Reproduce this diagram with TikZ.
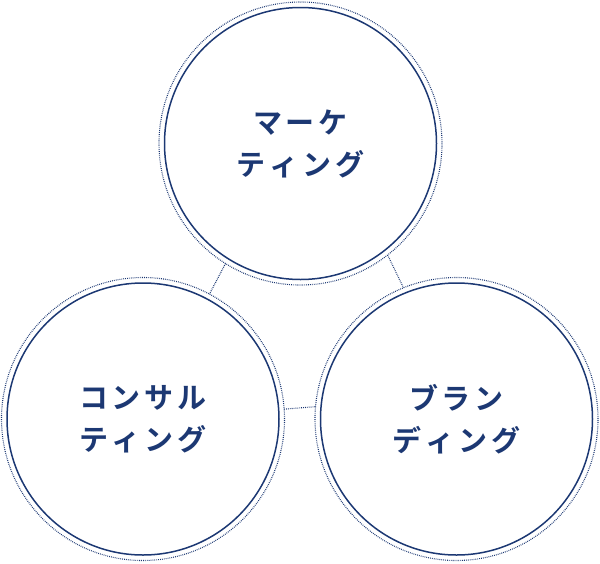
\documentclass[tikz,border=0pt]{standalone}
\usepackage{fontspec}
\newfontfamily\jp{Noto Sans CJK JP Bold}
\definecolor{navy}{RGB}{28,56,115}
\newcommand{\gp}{\hspace{4pt}}
\tikzset{
  ring/.style={circle, draw=navy, line width=1.1pt, dash pattern=on 0.8pt off 1.1pt, minimum size=283pt, inner sep=0pt, outer sep=0pt},
  disc/.style={circle, draw=navy, line width=1.5pt, minimum size=272pt, inner sep=0pt, outer sep=0pt,
    text=navy, align=center, font=\jp\fontsize{29}{42}\selectfont},
  link/.style={draw=navy, line width=1.1pt, dash pattern=on 0.8pt off 1.1pt}
}
\begin{document}
\begin{tikzpicture}[x=1pt,y=-1pt]
\useasboundingbox (0,0) rectangle (600,563);
\node[ring] (rT) at (300.5,143.5) {};
\node[ring] (rL) at (143,419) {};
\node[ring] (rR) at (456.5,419) {};
\node[disc] (T) at (300.5,143.5) {マ\gp ー\gp ケ\\テ\gp ィ\gp ン\gp グ};
\node[disc] (L) at (143,419) {コ\gp ン\gp サ\gp ル\\テ\gp ィ\gp ン\gp グ};
\node[disc] (R) at (456.5,419) {ブ\gp ラ\gp ン\\デ\gp ィ\gp ン\gp グ};
\draw[link] (rT.238) -- (rL.62);
\draw[link] (rT.-52.3) -- (rR.112);
\draw[link] (rL.4.5) -- (rR.175.5);
\end{tikzpicture}
\end{document}
